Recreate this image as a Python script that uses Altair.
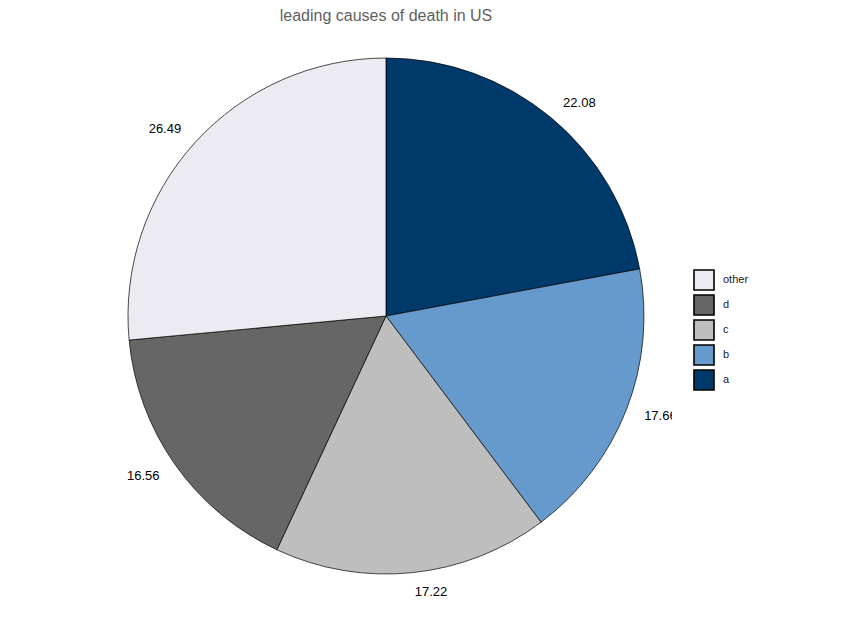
import altair as alt
import pandas as pd

categories = ["a", "b", "c", "d", "other"]
values = [22.08, 17.66, 17.22, 16.56, 26.49]
order = [1, 2, 3, 4, 5]
legend_order = ["other", "d", "c", "b", "a"]
colors = ["#ebebf1", "#666666", "#bebebe", "#6699cc", "#003a6b"]

df = pd.DataFrame({"cause": categories, "value": values, "ord": order})
df["label"] = [f"{v:.2f}" for v in values]

W = 572
H = 572
R = 258
RL = 277

base = alt.Chart(df).transform_window(
    cum="sum(value)", sort=[alt.SortField("ord")], frame=[None, 0]
).transform_joinaggregate(total="sum(value)").transform_calculate(
    start="(datum.cum - datum.value) / datum.total",
    end="datum.cum / datum.total",
    mid="(datum.cum - datum.value / 2) / datum.total",
)

theta_scale = alt.Scale(domain=[0, 1], range=[0, 6.283185307179586])

pie = base.mark_arc(outerRadius=R, stroke="black", strokeWidth=0.7).encode(
    theta=alt.Theta("start:Q", stack=None, scale=theta_scale),
    theta2="end:Q",
    color=alt.Color(
        "cause:N",
        scale=alt.Scale(domain=legend_order, range=colors),
        legend=alt.Legend(
            title=None,
            orient="none",
            legendX=593,
            legendY=239,
            symbolType="square",
            symbolSize=400,
            symbolStrokeColor="black",
            symbolStrokeWidth=1.6,
            symbolOpacity=1,
            rowPadding=-6,
            labelFontSize=11,
            labelFont="Liberation Sans",
            labelColor="#1a1a1a",
            labelOffset=8,
        ),
    ),
)

text_theta = alt.Theta("mid:Q", stack=None, scale=theta_scale)

right_txt = base.transform_filter("datum.mid < 0.5").mark_text(
    radius=RL, align="left", baseline="middle", fontSize=13, font="Liberation Sans", color="black", clip=True
).encode(theta=text_theta, text="label:N")

left_txt = base.transform_filter("datum.mid >= 0.5").mark_text(
    radius=RL, align="right", baseline="middle", fontSize=13, font="Liberation Sans", color="black", clip=True
).encode(theta=text_theta, text="label:N")

chart = alt.layer(pie, right_txt, left_txt).properties(
    width=W,
    height=H,
    title=alt.TitleParams(
        "leading causes of death in US",
        fontSize=16,
        font="Liberation Sans",
        fontWeight="normal",
        color="#5f5f5f",
        anchor="middle",
        offset=6,
    ),
    autosize=alt.AutoSizeParams(type="none"),
    padding={"left": 92, "top": 22, "right": 177, "bottom": 12},
).configure_view(stroke=None)

chart.save("out.html", embed_options={"renderer": "svg", "actions": False})
